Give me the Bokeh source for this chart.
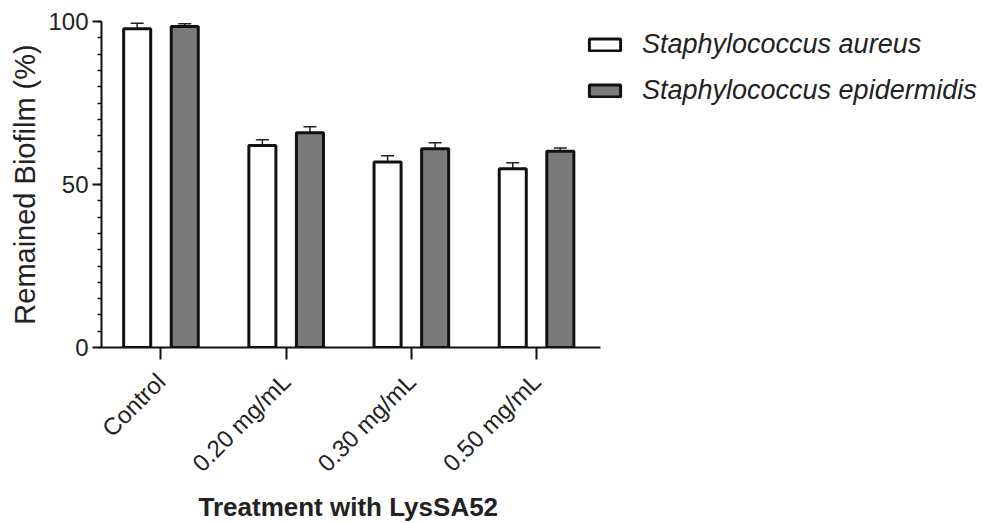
import math
from bokeh.plotting import figure
from bokeh.models import (ColumnDataSource, Range1d, FixedTicker, SingleIntervalTicker,
                          Whisker, TeeHead, Legend, LegendItem, Title)
from bokeh.transform import dodge
from bokeh.embed import file_html
from bokeh.resources import INLINE

# ---------------- data ----------------
categories = ["Control", "0.20 mg/mL", "0.30 mg/mL", "0.50 mg/mL"]
series_names = ["Staphylococcus aureus", "Staphylococcus epidermidis"]
aureus_mean = [97.8, 62.0, 56.9, 54.8]
aureus_err = [1.7, 1.7, 1.9, 1.9]
epidermidis_mean = [98.5, 65.9, 61.0, 60.2]
epidermidis_err = [0.8, 1.8, 1.8, 1.0]
x_title = "Treatment with LysSA52"
y_title = "Remained Biofilm (%)"

FONT = "Liberation Sans"
x_pos = list(range(len(categories)))
src = ColumnDataSource(dict(
    x=x_pos,
    a=aureus_mean,
    a_up=[m + e for m, e in zip(aureus_mean, aureus_err)],
    e=epidermidis_mean,
    e_up=[m + e for m, e in zip(epidermidis_mean, epidermidis_err)],
))

X0 = -0.475
X_AXIS_END = 3.511
p = figure(width=997, height=523,
           x_range=Range1d(X0, 6.682), y_range=Range1d(0, 100),
           output_backend="svg", toolbar_location=None,
           min_border_left=101, min_border_right=0,
           min_border_top=21, min_border_bottom=176)
p.outline_line_color = None
p.grid.visible = False
p.background_fill_color = "white"
p.border_fill_color = "white"

off = 0.19
bw = 0.216
r1 = p.vbar(x=dodge("x", -off), top="a", width=bw, source=src,
            fill_color="white", line_color="#111111", line_width=3)
r2 = p.vbar(x=dodge("x", off), top="e", width=bw, source=src,
            fill_color="#7a7a7a", line_color="#111111", line_width=3)

for base, lo, up in [(dodge("x", -off), "a", "a_up"), (dodge("x", off), "e", "e_up")]:
    w = Whisker(source=src, base=base, lower=lo, upper=up,
                line_color="#222222", line_width=1.5,
                upper_head=TeeHead(size=13, line_color="#222222", line_width=1.5),
                lower_head=None)
    p.add_layout(w)

# x axis
xa = p.xaxis[0]
xa.bounds = (X0, X_AXIS_END)
xa.ticker = FixedTicker(ticks=x_pos)
xa.major_label_overrides = {i: c for i, c in enumerate(categories)}
xa.major_label_orientation = math.pi / 4
xa.major_label_text_font = FONT
xa.major_label_text_font_size = "24px"
xa.major_label_text_color = "#222222"
xa.major_label_standoff = 18
xa.major_tick_out = 12
xa.major_tick_in = 0
xa.minor_tick_out = 0
xa.axis_line_width = 2
xa.major_tick_line_width = 2
xa.axis_line_color = "#111111"
xa.major_tick_line_color = "#111111"

# x-axis title, placed under the axis line (the frame extends right for the legend)
p.add_layout(Title(text=x_title, align="left", offset=97, standoff=0,
                   text_font=FONT, text_font_size="26px", text_font_style="bold",
                   text_color="#222222"), "below")

# y axis
ya = p.yaxis[0]
ya.ticker = SingleIntervalTicker(interval=50, num_minor_ticks=10)
ya.major_label_text_font = FONT
ya.major_label_text_font_size = "24px"
ya.major_label_text_color = "#222222"
ya.major_label_standoff = 4
ya.major_tick_out = 9
ya.major_tick_in = 0
ya.minor_tick_out = 4
ya.minor_tick_in = 0
ya.axis_line_width = 2
ya.major_tick_line_width = 2
ya.minor_tick_line_width = 1.5
ya.axis_line_color = "#111111"
ya.major_tick_line_color = "#111111"
ya.minor_tick_line_color = "#111111"
ya.axis_label = y_title
ya.axis_label_text_font = FONT
ya.axis_label_text_font_size = "29px"
ya.axis_label_text_font_style = "normal"
ya.axis_label_text_color = "#222222"
ya.axis_label_standoff = 4

legend = Legend(items=[LegendItem(label=series_names[0], renderers=[r1]),
                       LegendItem(label=series_names[1], renderers=[r2])],
                location=(484, 241), padding=0, margin=0, spacing=15,
                glyph_width=39, glyph_height=15, label_standoff=18,
                label_text_font=FONT, label_text_font_size="27px",
                label_text_font_style="italic", label_text_color="#222222",
                border_line_color=None, background_fill_alpha=0)
p.add_layout(legend, "center")

open("out.html", "w").write(file_html(p, INLINE))
